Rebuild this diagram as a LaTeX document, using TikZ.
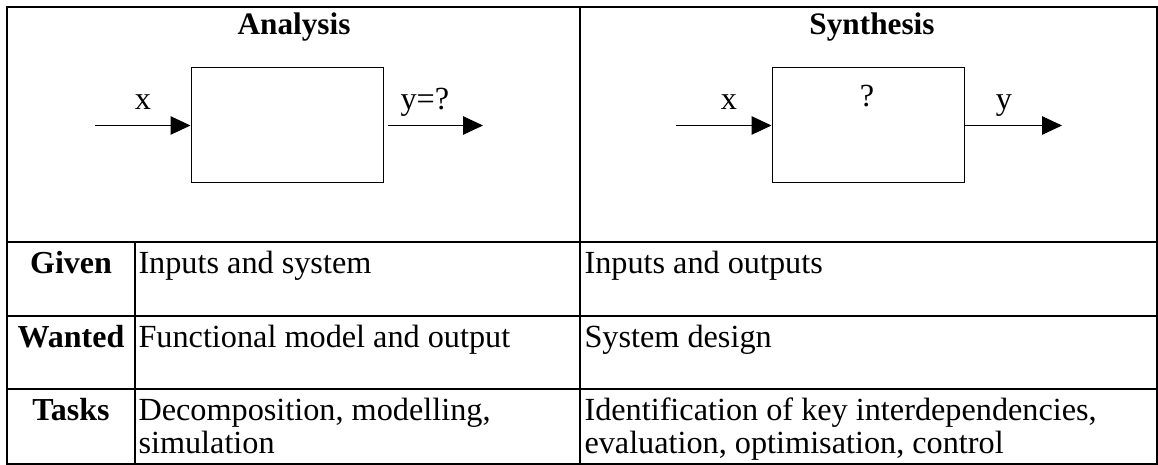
\documentclass[tikz,border=0pt]{standalone}
\usepackage{fontspec}
\setmainfont{Liberation Serif}
\usetikzlibrary{positioning,arrows.meta}
\tikzset{
  >={Triangle[length=8pt,width=7.4pt]},
}

\begin{document}
\begin{tikzpicture}[
  x=0.4pt, y=-0.4pt,
  font=\fontsize{12.9}{13.2}\selectfont,
  gridline/.style={line width=0.8pt},
  sysbox/.style={draw, line width=0.4pt, minimum width=76.8pt, minimum height=46pt, inner sep=0pt},
  signal/.style={->, line width=0.4pt},
  coltitle/.style={font=\fontsize{12.5}{14}\selectfont\bfseries, anchor=base, inner sep=0pt},
  rowlabel/.style={font=\fontsize{12.8}{13.2}\selectfont\bfseries, anchor=base, inner sep=0pt},
  cell/.style={anchor=base west, align=left, inner sep=0pt},
  lbl/.style={anchor=base, inner sep=0pt},
]
\useasboundingbox (0,0) rectangle (1158,465);

% table frame
\draw[gridline] (7,7) rectangle (1157,464);
\draw[gridline] (580,7) -- (580,464);
\draw[gridline] (135,242) -- (135,464);
\draw[gridline] (7,242) -- (1157,242) (7,316) -- (1157,316) (7,389) -- (1157,389);

% analysis block
\node[coltitle] (anaT) at (294,35) {Analysis};
\node[sysbox] (ana) at (287,125.5) {};
\coordinate (anaIn) at (95,125.5);
\coordinate (anaOut) at (483,125.5);
\draw[signal] (anaIn) -- (ana.west);
\draw[signal] ([xshift=1.6pt]ana.east) -- (anaOut);
\node[lbl] (anaX) at (143,110) {x};
\node[lbl, anchor=base west] (anaY) at (400,110) {y=?};

% synthesis block
\node[coltitle] (synT) at (872,35) {Synthesis};
\node[sysbox] (syn) at (868,125.5) {};
\coordinate (synIn) at (676,125.5);
\coordinate (synOut) at (1062,125.5);
\draw[signal] (synIn) -- (syn.west);
\draw[signal] (syn.east) -- (synOut);
\node[lbl] (synX) at (729,110) {x};
\node[lbl] (synQ) at (867,107) {?};
\node[lbl] (synY) at (1004,110) {y};

% rows (two-line cells sit on their last baseline)
\node[rowlabel] (given) at (71,273) {Given};
\node[cell] (givenA) at (138,273) {Inputs and system};
\node[cell] (givenS) at (584,273) {Inputs and outputs};

\node[rowlabel] (wanted) at (71,347) {Wanted};
\node[cell] (wantedA) at (138,347) {Functional model and output};
\node[cell] (wantedS) at (584,347) {System design};

\node[rowlabel] (tasks) at (71,420) {Tasks};
\node[cell] (tasksA) at (138,453) {Decomposition, modelling,\\simulation};
\node[cell] (tasksS) at (584,453) {Identification of key interdependencies,\\evaluation, optimisation, control};
\end{tikzpicture}
\end{document}
